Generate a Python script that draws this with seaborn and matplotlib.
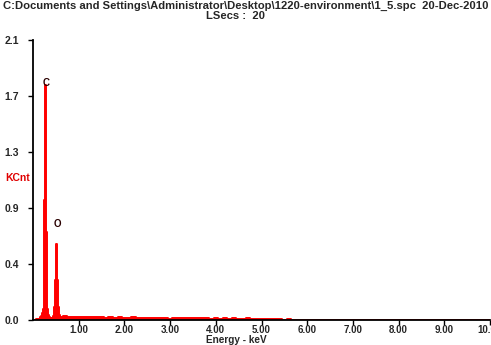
import numpy as np
import pandas as pd
import matplotlib
matplotlib.use("Agg")
import matplotlib.pyplot as plt
import seaborn as sns

# ---- data -------------------------------------------------------------
title_line1 = r"C:Documents and Settings\Administrator\Desktop\1220-environment\1_5.spc  20-Dec-2010 1"
title_line2 = "LSecs :  20"
x_label = "Energy - keV"
y_label = "KCnt"

x_ticks = [1, 2, 3, 4, 5, 6, 7, 8, 9, 10]
x_tick_labels = ["1.00", "2.00", "3.00", "4.00", "5.00", "6.00", "7.00", "8.00", "9.00", "10.00"]
y_ticks = [0.0, 0.42, 0.84, 1.26, 1.68, 2.1]
y_tick_labels = ["0.0", "0.4", "0.9", "1.3", "1.7", "2.1"]

# peak region: channels of 0.02 keV starting at 0.14 keV
peak_start, peak_step = 0.14, 0.02
peak_counts = [0.01, 0.02, 0.03, 0.05, 0.08, 0.22, 0.90, 1.76, 0.66, 0.08,
               0.04, 0.02, 0.015, 0.01, 0.015, 0.03, 0.06, 0.10, 0.30, 0.57,
               0.30, 0.10, 0.04, 0.025, 0.025]

# background: channels of 0.1 keV starting at 0.7 keV
bg_start, bg_step = 0.70, 0.10
bg_counts = [0.028, 0.024, 0.026, 0.021, 0.024, 0.020, 0.023, 0.019, 0.021, 0.018,
             0.020, 0.017, 0.019, 0.018, 0.016, 0.019, 0.017, 0.015, 0.018, 0.016,
             0.017, 0.015, 0.016, 0.010, 0.016, 0.015, 0.017, 0.014, 0.016, 0.015,
             0.012, 0.015, 0.007, 0.014, 0.011, 0.014, 0.010, 0.012, 0.011, 0.007,
             0.012, 0.010, 0.011, 0.008, 0.005, 0.008, 0.004, 0.007, 0.003, 0.004,
             0.000, 0.003, 0.000, 0.002, 0.000, 0.001, 0.000, 0.001, 0.000, 0.000,
             0.000, 0.000, 0.000, 0.000]

peak_labels = ["C", "O"]
peak_label_x = [0.277, 0.525]
peak_label_y = [1.78, 0.72]

# ---- build table ------------------------------------------------------
peak_energy = peak_start + peak_step * np.arange(len(peak_counts))
bg_energy = bg_start + bg_step * np.arange(len(bg_counts))
df = pd.DataFrame({
    "energy": np.concatenate([[0.0], peak_energy, bg_energy, [10.0]]),
    "counts": np.concatenate([[0.0], peak_counts, bg_counts, [0.0]]),
})

# ---- plot -------------------------------------------------------------
sns.set_theme(style="white")
plt.rcParams["font.family"] = ["Liberation Sans", "DejaVu Sans"]
plt.rcParams["font.weight"] = "bold"

W, H = 491, 345
fig = plt.figure(figsize=(W / 100, H / 100), dpi=100)
ax = fig.add_axes([33 / W, 1 - 320 / H, (490 - 33) / W, (320 - 40) / H])

red = "#ff0000"
sns.lineplot(data=df, x="energy", y="counts", ax=ax, color=red, lw=1.4,
             drawstyle="steps-mid", estimator=None)
ax.fill_between(df["energy"], df["counts"], step="mid", color=red, lw=0)

ax.set_xlim(0, 10)
ax.set_ylim(0, 2.1)
ax.set_xticks(x_ticks)
ax.set_xticklabels(x_tick_labels, fontsize=7, fontweight="bold")
ax.set_yticks(y_ticks)
ax.set_yticklabels(y_tick_labels, fontsize=7.5, fontweight="bold")
ax.tick_params(axis="both", direction="out", length=3.6, width=1, color="black",
               bottom=True, left=True)
ax.tick_params(axis="y", pad=6.5)
ax.tick_params(axis="x", pad=0.3)

for s in ["top", "right"]:
    ax.spines[s].set_visible(False)
for s in ["left", "bottom"]:
    ax.spines[s].set_color("black")
    ax.spines[s].set_linewidth(1.3)

ax.set_xlabel("")
ax.set_ylabel("")
fig.text(236 / W, 1 - 340 / H, x_label, fontsize=7.2, fontweight="bold",
         ha="center", va="center")

for lab, lx, ly in zip(peak_labels, peak_label_x, peak_label_y):
    ax.text(lx, ly, lab, fontsize=7, fontweight="bold", color="#2a0000",
            ha="center", va="center")

fig.text(3 / W, 1 - 6 / H, title_line1, fontsize=8.1, fontweight="bold",
         ha="left", va="center")
fig.text(236 / W, 1 - 16 / H, title_line2, fontsize=8.1, fontweight="bold",
         ha="center", va="center")
fig.text(5 / W, 1 - 178 / H, y_label, fontsize=7.5, fontweight="bold",
         color="#e00000", ha="left", va="center")

fig.savefig("out.png", dpi=100)
